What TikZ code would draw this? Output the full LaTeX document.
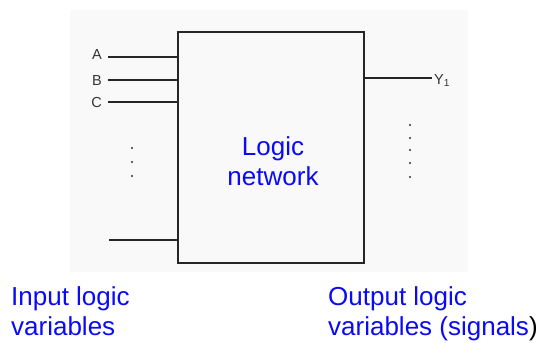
\documentclass[tikz,border=0pt]{standalone}
\usepackage{fontspec}
\setmainfont{Liberation Sans}
\definecolor{labelblue}{RGB}{10,10,245}
\definecolor{scanbg}{RGB}{249,249,249}
\tikzset{
  wire/.style={line width=1.4pt, draw=black!85},
  sig/.style={font=\fontsize{14.5}{16}\selectfont, text=black!80, inner sep=0pt},
  bluetxt/.style={font=\fontsize{26}{30}\selectfont, text=labelblue, inner sep=0pt, align=left},
  dotmark/.style={circle, fill=black!80, inner sep=0pt, minimum size=2.4pt},
}
\begin{document}
\begin{tikzpicture}[x=1pt,y=-1pt]
\useasboundingbox (0,0) rectangle (542,343);
\fill[scanbg] (70,10) rectangle (468,272);
% box
\draw[wire] (178,32) rectangle (364,263);
\coordinate (boxA) at (178,57);
\coordinate (boxB) at (178,80);
\coordinate (boxC) at (178,102);
\coordinate (boxD) at (178,240);
\coordinate (boxY) at (364,78);
% inputs
\node[sig, anchor=base east] (A) at (102,59.5) {A};
\node[sig, anchor=base east] (B) at (102,85.5) {B};
\node[sig, anchor=base east] (C) at (102,107.5) {C};
\coordinate (Astart) at (108,57);
\coordinate (Bstart) at (108,80);
\coordinate (Cstart) at (108,102);
\coordinate (Dend) at (109,240);
\draw[wire] (Astart) -- (boxA);
\draw[wire] (Bstart) -- (boxB);
\draw[wire] (Cstart) -- (boxC);
\draw[wire] (Dend) -- (boxD);
% output
\node[sig, anchor=base west] (Y) at (434,84) {Y\textsubscript{1}};
\coordinate (Yend) at (432,78);
\draw[wire] (boxY) -- (Yend);
% dots
\node[dotmark] (l1) at (132,148) {};
\node[dotmark] (l2) at (132,162) {};
\node[dotmark] (l3) at (132,176) {};
\node[dotmark] (r1) at (410,125) {};
\node[dotmark] (r2) at (410,138) {};
\node[dotmark] (r3) at (410,150) {};
\node[dotmark] (r4) at (410,163) {};
\node[dotmark] (r5) at (410,177) {};
% texts
\node[bluetxt, align=center, anchor=base] (logic) at (273,185) {Logic\\network};
\node[bluetxt, anchor=base west] (inp) at (11,335) {Input logic\\variables};
\node[bluetxt, anchor=base west] (outp) at (328,335) {Output logic\\variables (signals\textcolor{black}{)}};
\end{tikzpicture}
\end{document}
